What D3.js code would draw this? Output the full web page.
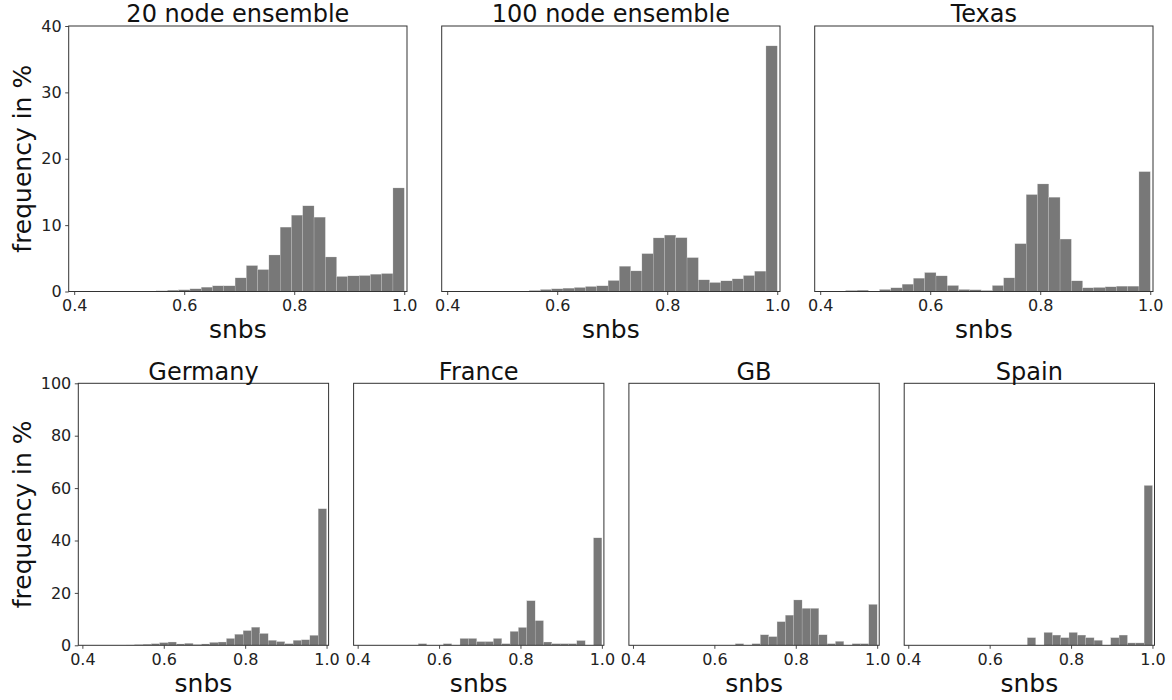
<!DOCTYPE html>
<html>
<head>
<meta charset="utf-8">
<script src="https://cdn.jsdelivr.net/npm/d3@7"></script>
<style>
  html, body { margin: 0; padding: 0; background: #fff; }
  svg { display: block; }
  text { font-family: "DejaVu Sans", sans-serif; }
</style>
</head>
<body>
<svg id="chart" width="1172" height="700"></svg>
<script>
// ---- data: 30 histogram bins (width 0.0205) from 0.385 to 1.0, frequency in % ----
const binLo = 0.385;
const binHi = 1.0;
const binCount = 30;

const titles = ["20 node ensemble", "100 node ensemble", "Texas", "Germany", "France", "GB", "Spain"];

const ens20 = [0, 0, 0.02, 0.02, 0.03, 0.03, 0.04, 0.06, 0.1, 0.2,
               0.25, 0.4, 0.65, 0.85, 0.85, 2.05, 3.9, 3.3, 5.5, 9.7,
               11.5, 12.9, 11.2, 5.2, 2.26, 2.35, 2.4, 2.6, 2.7, 15.6];
const ens100 = [0, 0, 0.02, 0.02, 0.02, 0.03, 0.03, 0.05, 0.15, 0.3,
                0.4, 0.5, 0.6, 0.75, 0.85, 1.65, 3.8, 3.1, 5.7, 8.07,
                8.5, 8.1, 5.1, 1.75, 1.35, 1.6, 1.9, 2.4, 3.06, 37.0];
const texas = [0, 0, 0, 0.15, 0.2, 0, 0.3, 0.55, 1.1, 2.0,
               2.85, 2.35, 0.9, 0.3, 0.25, 0.15, 0.9, 2.05, 7.2, 14.6,
               16.2, 14.2, 7.9, 1.6, 0.55, 0.6, 0.7, 0.8, 0.8, 18.05];
const germany = [0, 0, 0, 0, 0, 0, 0.1, 0.25, 0.4, 0.6,
                 1.0, 1.25, 0.5, 0.75, 0.25, 0.5, 1.1, 1.25, 2.6, 4.2,
                 5.6, 6.9, 4.5, 1.9, 1.4, 0.6, 1.9, 2.1, 3.8, 52.1];
const france = [0, 0, 0, 0, 0, 0, 0, 0, 0.6, 0,
                0, 0.6, 0, 2.6, 2.6, 1.4, 1.4, 2.6, 0.6, 5.3,
                6.8, 17.0, 9.4, 1.25, 0.6, 0.6, 0.6, 1.8, 0, 41.0];
const gb = [0, 0, 0, 0, 0, 0, 0, 0, 0, 0,
            0, 0, 0, 0.6, 0, 0.6, 4.0, 3.3, 9.0, 11.5,
            17.3, 14.1, 14.1, 4.0, 0.6, 1.5, 0, 0.6, 0.6, 15.6];
const spain = [0, 0, 0, 0, 0, 0, 0, 0, 0, 0,
               0, 0, 0, 0, 0, 2.9, 0, 4.9, 3.9, 2.9,
               4.9, 3.9, 2.9, 1.9, 0, 2.9, 3.9, 0.9, 0.9, 61.0];

const xTicks = [0.4, 0.6, 0.8, 1.0];
const yTicksTop = [0, 10, 20, 30, 40];
const yTicksBottom = [0, 20, 40, 60, 80, 100];
const yMaxTop = 40, yMaxBottom = 100;
const xLabel = "snbs";
const yLabel = "frequency in %";

// ---- layout ----
const svg = d3.select("#chart");
svg.append("rect").attr("width", 1172).attr("height", 700).attr("fill", "#fff");

const binEdges = d3.range(binCount + 1).map(i => binLo + (binHi - binLo) * i / binCount);

const panels = [
  {title: titles[0], data: ens20,   x: 68.7,  y: 26,    w: 338.3, h: 265.5, ymax: yMaxTop,    yticks: yTicksTop,    showY: true},
  {title: titles[1], data: ens100,  x: 441.7, y: 26,    w: 338.3, h: 265.5, ymax: yMaxTop,    yticks: yTicksTop,    showY: false},
  {title: titles[2], data: texas,   x: 814.7, y: 26,    w: 338.3, h: 265.5, ymax: yMaxTop,    yticks: yTicksTop,    showY: false},
  {title: titles[3], data: germany, x: 78.3,  y: 383.3, w: 250.3, h: 262,   ymax: yMaxBottom, yticks: yTicksBottom, showY: true},
  {title: titles[4], data: france,  x: 353.6, y: 383.3, w: 250.3, h: 262,   ymax: yMaxBottom, yticks: yTicksBottom, showY: false},
  {title: titles[5], data: gb,      x: 628.9, y: 383.3, w: 250.3, h: 262,   ymax: yMaxBottom, yticks: yTicksBottom, showY: false},
  {title: titles[6], data: spain,   x: 904.2, y: 383.3, w: 250.3, h: 262,   ymax: yMaxBottom, yticks: yTicksBottom, showY: false}
];

panels.forEach((p, pi) => {
  const g = svg.append("g").attr("transform", `translate(${p.x},${p.y})`);
  const x = d3.scaleLinear().domain([0.39, 1.005]).range([0, p.w]);
  const y = d3.scaleLinear().domain([0, p.ymax]).range([p.h, 0]);

  const clipId = "clip" + pi;
  g.append("clipPath").attr("id", clipId)
    .append("rect").attr("width", p.w).attr("height", p.h);

  const bins = p.data.map((v, i) => ({x0: binEdges[i], x1: binEdges[i + 1], v}));
  g.append("g").attr("clip-path", `url(#${clipId})`)
    .selectAll("rect").data(bins.filter(d => d.v > 0)).join("rect")
    .attr("x", d => x(d.x0))
    .attr("width", d => x(d.x1) - x(d.x0))
    .attr("y", d => y(d.v))
    .attr("height", d => y(0) - y(d.v))
    .attr("fill", "#787878")
    .attr("stroke", "#d4d4d4")
    .attr("stroke-width", 0.25);

  // x axis
  const xa = g.append("g").attr("transform", `translate(0,${p.h})`)
    .call(d3.axisBottom(x).tickValues(xTicks).tickFormat(d3.format(".1f"))
      .tickSizeInner(3.5).tickSizeOuter(0).tickPadding(4.5));
  xa.select(".domain").remove();
  xa.selectAll("line").attr("stroke", "#333").attr("stroke-width", 0.9);
  xa.selectAll("text").attr("font-size", 16).attr("fill", "#222")
    .attr("font-family", "DejaVu Sans");

  if (p.showY) {
    const ya = g.append("g")
      .call(d3.axisLeft(y).tickValues(p.yticks).tickFormat(d3.format("d"))
        .tickSizeInner(3.5).tickSizeOuter(0).tickPadding(3.5));
    ya.select(".domain").remove();
    ya.selectAll("line").attr("stroke", "#333").attr("stroke-width", 0.9);
    ya.selectAll("text").attr("font-size", 16).attr("fill", "#222")
      .attr("font-family", "DejaVu Sans");
    svg.append("text")
      .attr("transform", `translate(${31},${p.y + p.h / 2}) rotate(-90)`)
      .attr("text-anchor", "middle")
      .attr("font-size", 25).attr("fill", "#111")
      .text(yLabel);
  }

  // frame
  g.append("rect").attr("width", p.w).attr("height", p.h)
    .attr("fill", "none").attr("stroke", "#333").attr("stroke-width", 1);

  // title
  g.append("text").attr("x", p.w / 2).attr("y", -3.6)
    .attr("text-anchor", "middle").attr("font-size", 24).attr("fill", "#111")
    .text(p.title);

  // x label
  g.append("text").attr("x", p.w / 2).attr("y", p.h + 46.8)
    .attr("text-anchor", "middle").attr("font-size", 25).attr("fill", "#111")
    .text(xLabel);
});
</script>
</body>
</html>
